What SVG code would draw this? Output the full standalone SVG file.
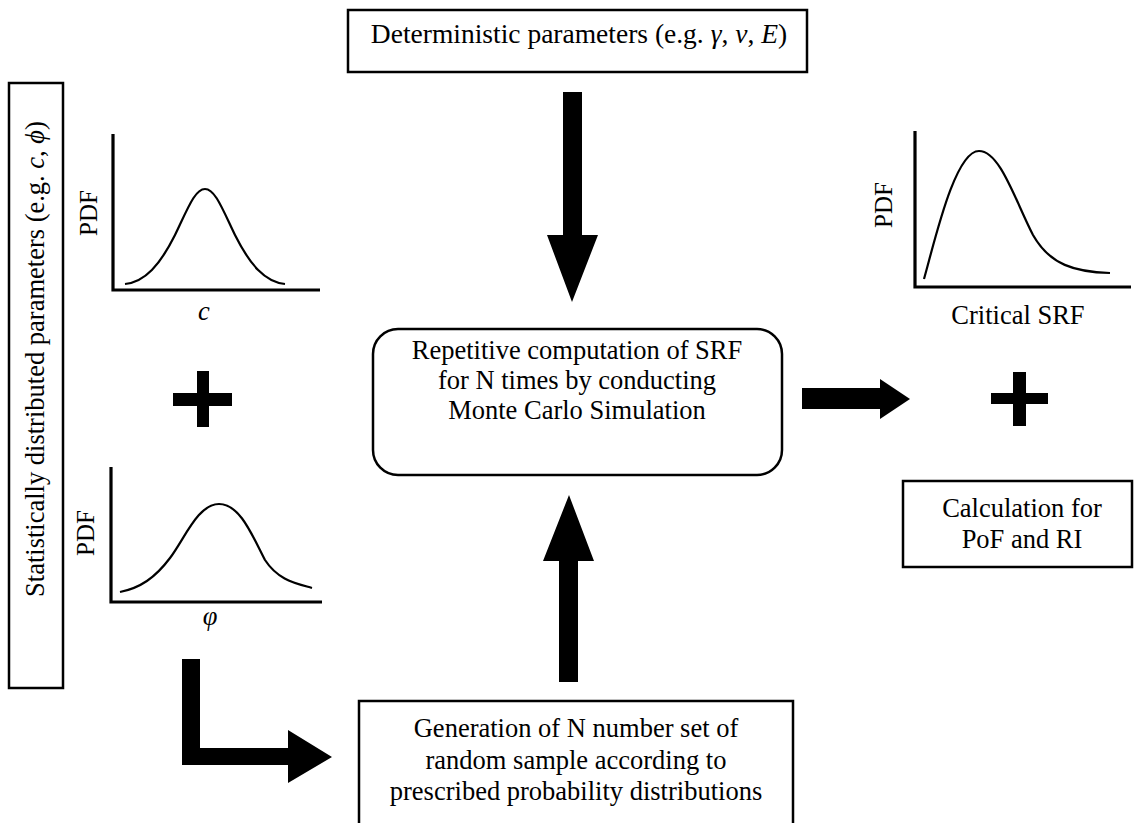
<svg xmlns="http://www.w3.org/2000/svg" width="1137" height="823" viewBox="0 0 1137 823" font-family="Liberation Serif, Times New Roman, serif">
<style>
text{font-size:26.5px;fill:#000}
.i{font-style:italic}
.box{fill:#fff;stroke:#000;stroke-width:2.5}
.axis{fill:none;stroke:#000;stroke-width:3.2}
.curve{fill:none;stroke:#000;stroke-width:2.2}
.fat{fill:#000;stroke:none}
.lbl{font-size:25px}
</style>
<rect width="1137" height="823" fill="#fff"/>
<g id="deterministic">
<rect class="box" x="348" y="10" width="459" height="62"/>
<text x="579" y="43" text-anchor="middle" font-family="Liberation Serif, serif" style="font-size:27.5px">Deterministic parameters (e.g. <tspan class="i">γ</tspan>, <tspan class="i">ν</tspan>, <tspan class="i">E</tspan>)</text>
</g>
<g id="statistical">
<rect class="box" x="9" y="83" width="54" height="605"/>
<text transform="translate(44,359) rotate(-90)" text-anchor="middle" font-family="Liberation Serif, serif">Statistically distributed parameters (e.g. <tspan class="i">c</tspan>, <tspan class="i">ϕ</tspan>)</text>
</g>
<g id="plot-c">
<path class="axis" d="M113,134 V290 H320"/>
<path class="curve" d="M125,284 C145,282 160,265 175,235 C188,208 195,189 205,189 C215,189 222,208 235,235 C250,265 265,282 285,284"/>
<text class="lbl" transform="translate(97,213) rotate(-90)" text-anchor="middle" font-family="Liberation Serif, serif">PDF</text>
<text class="i" x="204" y="320" text-anchor="middle" font-family="Liberation Serif, serif">c</text>
</g>
<g id="plus-left">
<path class="fat" d="M197,371 H209 V393 H232 V406 H209 V427 H197 V406 H173 V393 H197 Z"/>
</g>
<g id="plot-phi">
<path class="axis" d="M111,467 V602 H322"/>
<path class="curve" d="M120,592 C140,588 155,578 170,558 C185,538 198,504 219,504 C240,504 252,535 265,560 C278,580 295,583 312,588"/>
<text class="lbl" transform="translate(94,533) rotate(-90)" text-anchor="middle" font-family="Liberation Serif, serif">PDF</text>
<text class="i" x="210" y="625" text-anchor="middle" font-family="Liberation Serif, serif">φ</text>
</g>
<g id="monte-carlo" font-family="Liberation Serif, serif">
<rect class="box" x="373" y="329" width="409" height="146" rx="25" ry="25"/>
<text x="577" y="359" text-anchor="middle" font-family="Liberation Serif, serif">Repetitive computation of SRF</text>
<text x="577" y="389" text-anchor="middle" font-family="Liberation Serif, serif">for N times by conducting</text>
<text x="577" y="419" text-anchor="middle" font-family="Liberation Serif, serif">Monte Carlo Simulation</text>
</g>
<g id="generation">
<rect class="box" x="359" y="701" width="434" height="130"/>
<text x="576" y="737" text-anchor="middle" font-family="Liberation Serif, serif">Generation of N number set of</text>
<text x="576" y="768.5" text-anchor="middle" font-family="Liberation Serif, serif">random sample according to</text>
<text x="576" y="800" text-anchor="middle" font-family="Liberation Serif, serif">prescribed probability distributions</text>
</g>
<g id="plot-srf">
<path class="axis" d="M915,131 V287 H1131"/>
<path class="curve" d="M924,279 C935,240 955,151 979,151 C1000,151 1015,200 1033,235 C1050,265 1075,272 1110,273"/>
<text class="lbl" transform="translate(892,205) rotate(-90)" text-anchor="middle" font-family="Liberation Serif, serif">PDF</text>
<text x="1018" y="324" text-anchor="middle" font-family="Liberation Serif, serif">Critical SRF</text>
</g>
<g id="plus-right">
<path class="fat" d="M1013,372 H1026 V393 H1048 V404 H1026 V426 H1013 V404 H991 V393 H1013 Z"/>
</g>
<g id="pof">
<rect class="box" x="903" y="481" width="229" height="86"/>
<text x="1022" y="517" text-anchor="middle" font-family="Liberation Serif, serif">Calculation for</text>
<text x="1022" y="548" text-anchor="middle" font-family="Liberation Serif, serif">PoF and RI</text>
</g>
<g id="connectors">
<polygon class="fat" points="563,92 582,92 582,235 598,235 572,302 547,235 563,235"/>
<polygon class="fat" points="569,495 594,561 578,561 578,682 559,682 559,561 543,561"/>
<polygon class="fat" points="802,388 880,388 880,379 910,399 880,419 880,409 802,409"/>
<polygon class="fat" points="182,659 200,659 200,748 288,748 288,730 332,757 288,783 288,765 182,765"/>
</g>
</svg>
